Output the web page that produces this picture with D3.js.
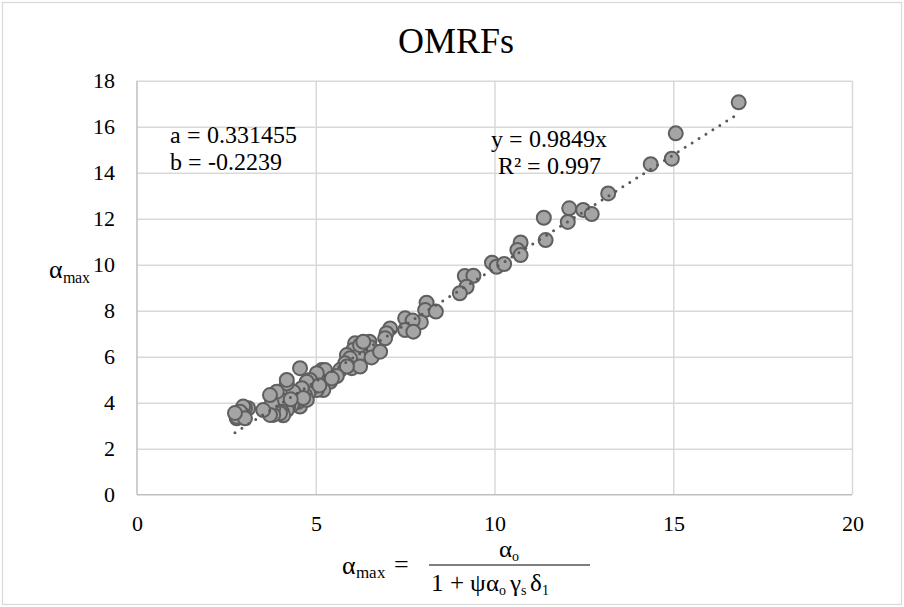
<!DOCTYPE html>
<html>
<head>
<meta charset="utf-8">
<script src="https://cdn.jsdelivr.net/npm/d3@7"></script>
<style>
    @font-face {
        font-family: "ChartSerif";
        src: local("Liberation Serif"), local("LiberationSerif"), local("LiberationSerif-Regular"),
             local("Tinos"), local("Times New Roman");
    }
    body { margin: 0; }
    #chart text { font-family: "ChartSerif", "Liberation Serif", "Tinos", "Times New Roman", "Roboto Slab"; }
</style>
</head>
<body>
<svg id="chart" width="904" height="607"></svg>
<script>
// chart texts
const chartTitle = "OMRFs";
const fitLabels = ["y = 0.9849x", "R\u00b2 = 0.997"];
const paramLabels = ["a = 0.331455", "b = -0.2239"];
const fitSlope = 0.9849;

// tick values
const xTicks = [0, 5, 10, 15, 20];
const yTicks = [0, 2, 4, 6, 8, 10, 12, 14, 16, 18];

// approximate alpha_max (x) vs alpha_max (y)
const approxAlpha = [
    16.83, 15.07, 14.96, 14.37, 13.18, 12.09, 12.48, 12.72, 11.38, 12.05,
    11.43, 10.73, 10.64, 10.73, 9.93, 10.06, 10.27, 9.17, 9.41, 9.22,
    9.03, 8.10, 8.06, 8.36, 7.94, 7.50, 7.71, 7.50, 7.73, 7.08,
    6.98, 6.94, 6.10, 6.50, 6.52, 6.24, 6.05, 5.87, 6.19, 6.56,
    6.80, 5.96, 6.24, 6.01, 6.24, 5.82, 5.68, 5.87, 5.17, 5.31,
    5.59, 5.26, 5.40, 5.21, 5.03, 5.03, 5.03, 4.84, 4.89, 4.75,
    4.79, 4.70, 4.61, 4.56, 4.56, 4.51, 4.47, 4.42, 4.37, 4.33,
    4.23, 4.19, 4.19, 4.19, 4.05, 4.05, 4.09, 4.00, 3.91, 3.81,
    3.81, 3.77, 3.72, 3.72, 3.53, 3.11, 3.02, 2.97, 2.97, 2.88,
    2.79, 2.79, 3.02, 2.74, 4.75, 6.33, 5.45, 5.10, 4.65, 4.30
];
const omrfAlpha = [
    17.06, 15.71, 14.61, 14.37, 13.10, 12.45, 12.38, 12.20, 12.04, 11.86,
    11.07, 10.97, 10.64, 10.42, 10.09, 9.91, 10.03, 9.51, 9.52, 9.04,
    8.76, 8.35, 8.03, 7.96, 7.50, 7.67, 7.57, 7.16, 7.09, 7.23,
    7.02, 6.80, 6.58, 6.65, 6.41, 6.29, 6.29, 6.07, 6.03, 5.97,
    6.22, 5.93, 6.50, 5.50, 5.57, 5.71, 5.42, 5.57, 5.42, 5.20,
    5.16, 5.42, 4.91, 4.55, 4.84, 4.55, 5.28, 4.99, 4.63, 4.91,
    4.41, 4.33, 4.63, 5.50, 3.83, 4.04, 4.26, 4.04, 4.48, 3.90,
    3.83, 4.84, 4.99, 3.68, 4.12, 3.61, 3.45, 3.54, 4.48, 3.76,
    3.47, 3.97, 4.33, 3.47, 3.68, 3.76, 3.76, 3.83, 3.47, 3.61,
    3.32, 3.39, 3.32, 3.55, 4.12, 6.65, 5.05, 4.75, 4.20, 4.15
];

const points = approxAlpha.map((x, i) => ({ x: x, y: omrfAlpha[i] }));

const svg = d3.select("#chart");
const margin = { left: 137, top: 80.7, right: 52, bottom: 112.3 };
const W = 904, H = 607;

// outer chart border
svg.append("rect")
    .attr("x", 2.5).attr("y", 2.5)
    .attr("width", W - 5).attr("height", H - 5)
    .attr("fill", "none")
    .attr("stroke", "#d9d9d9")
    .attr("stroke-width", 1.3);

const xScale = d3.scaleLinear().domain([0, 20]).range([margin.left, W - margin.right]);
const yScale = d3.scaleLinear().domain([0, 18]).range([H - margin.bottom, margin.top]);
const plotW = xScale.range()[1] - xScale.range()[0];
const plotH = yScale.range()[0] - yScale.range()[1];

// grid lines
svg.append("g")
    .attr("transform", `translate(0,${yScale(0)})`)
    .call(d3.axisBottom(xScale).tickValues(xTicks.slice(1)).tickSize(-plotH).tickFormat(""))
    .call(g => g.select(".domain").remove())
    .call(g => g.selectAll("line").attr("stroke", "#d9d9d9").attr("stroke-width", 1.5));

svg.append("g")
    .attr("transform", `translate(${xScale(0)},0)`)
    .call(d3.axisLeft(yScale).tickValues(yTicks.slice(1)).tickSize(-plotW).tickFormat(""))
    .call(g => g.select(".domain").remove())
    .call(g => g.selectAll("line").attr("stroke", "#d9d9d9").attr("stroke-width", 1.5));

// axis lines
svg.append("line")
    .attr("x1", xScale(0)).attr("x2", xScale(0))
    .attr("y1", yScale(18)).attr("y2", yScale(0))
    .attr("stroke", "#bfbfbf").attr("stroke-width", 1.5);
svg.append("line")
    .attr("x1", xScale(0)).attr("x2", xScale(20))
    .attr("y1", yScale(0)).attr("y2", yScale(0))
    .attr("stroke", "#bfbfbf").attr("stroke-width", 1.5);

// tick labels
svg.append("g")
    .attr("transform", `translate(0,${yScale(0)})`)
    .call(d3.axisBottom(xScale).tickValues(xTicks).tickSize(0).tickPadding(21.5))
    .call(g => g.select(".domain").remove())
    .call(g => g.selectAll("text").style("font-size", "21.5px").attr("fill", "#000"));

svg.append("g")
    .attr("transform", `translate(${xScale(0)},0)`)
    .call(d3.axisLeft(yScale).tickValues(yTicks).tickSize(0).tickPadding(22))
    .call(g => g.select(".domain").remove())
    .call(g => g.selectAll("text").style("font-size", "21.5px").attr("fill", "#000"));

// markers
svg.append("g")
    .selectAll("circle")
    .data(points)
    .join("circle")
    .attr("cx", d => xScale(d.x))
    .attr("cy", d => yScale(d.y))
    .attr("r", 7)
    .attr("fill", "#a5a5a5")
    .attr("stroke", "#5f5f5f")
    .attr("stroke-width", 2);

// linear trendline through origin, drawn over the data extent
const xExt = d3.extent(approxAlpha);
svg.append("path")
    .datum(xExt.map(x => ({ x: x, y: fitSlope * x })))
    .attr("fill", "none")
    .attr("stroke", "#595959")
    .attr("stroke-width", 3)
    .attr("stroke-linecap", "round")
    .attr("stroke-dasharray", "0 8.2")
    .attr("d", d3.line().x(d => xScale(d.x)).y(d => yScale(d.y)));

// title
svg.append("text")
    .attr("x", 456).attr("y", 53)
    .attr("text-anchor", "middle")
    .style("font-size", "36px")
    .text(chartTitle);

// fit labels
fitLabels.forEach((t, i) => {
    svg.append("text")
        .attr("x", 549).attr("y", 147 + i * 26.5)
        .attr("text-anchor", "middle")
        .style("font-size", "23.5px")
        .text(t);
});

paramLabels.forEach((t, i) => {
    svg.append("text")
        .attr("x", 170).attr("y", 143 + i * 26.5)
        .style("font-size", "23.5px")
        .text(t);
});

// y axis title: alpha_max
const yTitle = svg.append("text").attr("x", 49).attr("y", 278).style("font-size", "26px");
yTitle.append("tspan").text("\u03b1");
yTitle.append("tspan").attr("dy", 5).style("font-size", "16px").text("max");

// x axis title: alpha_max = alpha_o / (1 + psi alpha_o gamma_s delta_1)
const lhs = svg.append("text").attr("x", 342).attr("y", 574).style("font-size", "26px");
lhs.append("tspan").text("\u03b1");
lhs.append("tspan").attr("dy", 4).style("font-size", "17px").text("max");
lhs.append("tspan").attr("dy", -4).attr("dx", 8).text("=");

const num = svg.append("text").attr("x", 509).attr("y", 557)
    .attr("text-anchor", "middle").style("font-size", "25px");
num.append("tspan").text("\u03b1");
num.append("tspan").attr("dy", 4).style("font-size", "14px").text("o");

svg.append("line")
    .attr("x1", 429).attr("x2", 590)
    .attr("y1", 565).attr("y2", 565)
    .attr("stroke", "#000").attr("stroke-width", 1.2);

const den = svg.append("text").attr("x", 431).attr("y", 591).style("font-size", "25px");
den.append("tspan").text("1 + \u03c8\u03b1");
den.append("tspan").attr("dy", 4).style("font-size", "14px").text("o");
den.append("tspan").attr("dy", -4).attr("dx", 4).text("\u03b3");
den.append("tspan").attr("dy", 4).style("font-size", "14px").text("s");
den.append("tspan").attr("dy", -4).attr("dx", 4).text("\u03b4");
den.append("tspan").attr("dy", 4).style("font-size", "14px").text("1");
</script>
</body>
</html>
